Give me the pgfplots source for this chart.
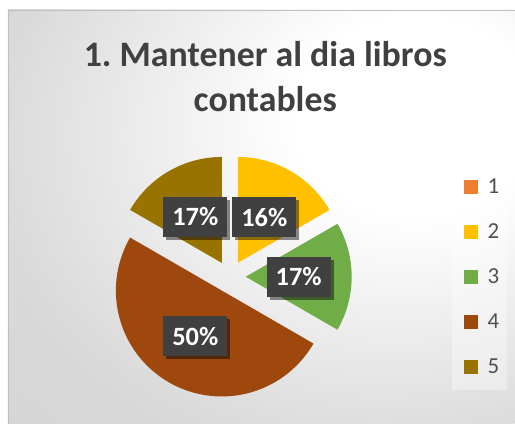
\documentclass[border=0pt]{standalone}
\usepackage{pgfplots}
\pgfplotsset{compat=1.18}
\usepackage{pgfplotstable}
\usepackage{fontspec}
\setmainfont{Carlito}
\usetikzlibrary{shadows}
\frenchspacing

\definecolor{c1}{HTML}{ED7D31}
\definecolor{c2}{HTML}{FFC000}
\definecolor{c3}{HTML}{70AD47}
\definecolor{c4}{HTML}{9E480E}
\definecolor{c5}{HTML}{997300}
\definecolor{titlegray}{HTML}{404040}
\definecolor{leggray}{HTML}{505050}
\definecolor{boxgray}{HTML}{404040}

\pgfdeclareradialshading{chartbg}{\pgfpoint{17.5bp}{13.8bp}}{rgb(0bp)=(1,1,1); rgb(12bp)=(1,1,1); rgb(38bp)=(0.85,0.85,0.85); rgb(100bp)=(0.76,0.76,0.76)}

% category, share in percent, printed label
\pgfplotstableread{
cat value lbl
1 0 0
2 16.67 16
3 16.67 17
4 50 50
5 16.67 17
}\piedata

\pgfplotstablegetelem{0}{value}\of\piedata\let\vA\pgfplotsretval
\pgfplotstablegetelem{1}{value}\of\piedata\let\vB\pgfplotsretval
\pgfplotstablegetelem{2}{value}\of\piedata\let\vC\pgfplotsretval
\pgfplotstablegetelem{3}{value}\of\piedata\let\vD\pgfplotsretval
\pgfplotstablegetelem{4}{value}\of\piedata\let\vE\pgfplotsretval
\pgfplotstablegetelem{1}{lbl}\of\piedata\let\tB\pgfplotsretval
\pgfplotstablegetelem{2}{lbl}\of\piedata\let\tC\pgfplotsretval
\pgfplotstablegetelem{3}{lbl}\of\piedata\let\tD\pgfplotsretval
\pgfplotstablegetelem{4}{lbl}\of\piedata\let\tE\pgfplotsretval

\def\cx{230}\def\cy{147}\def\R{106}\def\dd{16}\def\rl{53}
\pgfmathsetmacro\aA{90}
\pgfmathsetmacro\aB{\aA-3.6*\vA}
\pgfmathsetmacro\aC{\aB-3.6*\vB}
\pgfmathsetmacro\aD{\aC-3.6*\vC}
\pgfmathsetmacro\aE{\aD-3.6*\vD}
\pgfmathsetmacro\aF{\aE-3.6*\vE}
\pgfmathsetmacro\mB{(\aB+\aC)/2}
\pgfmathsetmacro\mC{(\aC+\aD)/2}
\pgfmathsetmacro\mD{(\aD+\aE)/2}
\pgfmathsetmacro\mE{(\aE+\aF)/2}
\pgfmathsetmacro\oxB{\cx+\dd*cos(\mB)}\pgfmathsetmacro\oyB{\cy+\dd*sin(\mB)}
\pgfmathsetmacro\oxC{\cx+\dd*cos(\mC)}\pgfmathsetmacro\oyC{\cy+\dd*sin(\mC)}
\pgfmathsetmacro\oxD{\cx+\dd*cos(\mD)}\pgfmathsetmacro\oyD{\cy+\dd*sin(\mD)}
\pgfmathsetmacro\oxE{\cx+\dd*cos(\mE)}\pgfmathsetmacro\oyE{\cy+\dd*sin(\mE)}
\pgfmathsetmacro\lxB{\oxB+\rl*cos(\mB)}\pgfmathsetmacro\lyB{\oyB+\rl*sin(\mB)}
\pgfmathsetmacro\lxC{\oxC+\rl*cos(\mC)}\pgfmathsetmacro\lyC{\oyC+\rl*sin(\mC)}
\pgfmathsetmacro\lxD{\oxD+\rl*cos(\mD)}\pgfmathsetmacro\lyD{\oyD+\rl*sin(\mD)}
\pgfmathsetmacro\lxE{\oxE+\rl*cos(\mE)}\pgfmathsetmacro\lyE{\oyE+\rl*sin(\mE)}

\tikzset{pielabel/.style={fill=boxgray, text=white, font=\bfseries\fontsize{26.5}{30}\selectfont,
  minimum width=64bp, minimum height=40bp, inner sep=0pt,
  drop shadow={shadow xshift=3bp, shadow yshift=-3bp, opacity=0.45, fill=black}}}

\begin{document}
\begin{tikzpicture}
\begin{axis}[hide axis, scale only axis, width=515bp, height=424bp,
  xmin=0, xmax=515, ymin=0, ymax=424, clip=false,
  legend image code/.code={\fill[#1] (0bp,-7bp) rectangle (14bp,7bp);},
  legend cell align=left,
  legend style={draw=none, fill=none, inner sep=0pt, outer sep=0pt,
    at={(axis cs:464,244)}, anchor=north west,
    font=\fontsize{23}{26}\selectfont, text=leggray, row sep=31bp,
    nodes={inner xsep=0pt, inner ysep=0pt, text height=14bp, text depth=0bp},
    /tikz/every even column/.append style={column sep=0pt}},
]
\fill[white] (axis cs:0,0) rectangle (axis cs:515,424);
\shade[shading=chartbg] (axis cs:8,0) rectangle (axis cs:515,414);
\draw[black!25, line width=1bp] (axis cs:8.5,0) -- (axis cs:8.5,413.5) -- (axis cs:515,413.5);
\fill[white, opacity=0.35] (axis cs:452,34) rectangle (axis cs:507,259);

\addplot[fill=c2, draw=none, domain=\aC:\aB, samples=61, forget plot]
  ({\oxB+\R*cos(x)}, {\oyB+\R*sin(x)}) -- (axis cs:\oxB,\oyB) -- cycle;
\addplot[fill=c3, draw=none, domain=\aD:\aC, samples=61, forget plot]
  ({\oxC+\R*cos(x)}, {\oyC+\R*sin(x)}) -- (axis cs:\oxC,\oyC) -- cycle;
\addplot[fill=c4, draw=none, domain=\aE:\aD, samples=121, forget plot]
  ({\oxD+\R*cos(x)}, {\oyD+\R*sin(x)}) -- (axis cs:\oxD,\oyD) -- cycle;
\addplot[fill=c5, draw=none, domain=\aF:\aE, samples=61, forget plot]
  ({\oxE+\R*cos(x)}, {\oyE+\R*sin(x)}) -- (axis cs:\oxE,\oyE) -- cycle;

\addlegendimage{fill=c1, draw=none}\addlegendentry{\hspace{10bp}1}
\addlegendimage{fill=c2, draw=none}\addlegendentry{\hspace{10bp}2}
\addlegendimage{fill=c3, draw=none}\addlegendentry{\hspace{10bp}3}
\addlegendimage{fill=c4, draw=none}\addlegendentry{\hspace{10bp}4}
\addlegendimage{fill=c5, draw=none}\addlegendentry{\hspace{10bp}5}

\node[pielabel] at (axis cs:\lxB,\lyB) {\tB\%};
\node[pielabel] at (axis cs:\lxC,\lyC) {\tC\%};
\node[pielabel] at (axis cs:\lxD,\lyD) {\tD\%};
\node[pielabel] at (axis cs:\lxE,\lyE) {\tE\%};

\node[anchor=base, font=\bfseries\fontsize{36}{40}\selectfont, text=titlegray]
  at (axis cs:265.5,357) {1. Mantener al dia libros};
\node[anchor=base, font=\bfseries\fontsize{36}{40}\selectfont, text=titlegray]
  at (axis cs:265.5,312) {contables};
\end{axis}
\end{tikzpicture}
\end{document}
